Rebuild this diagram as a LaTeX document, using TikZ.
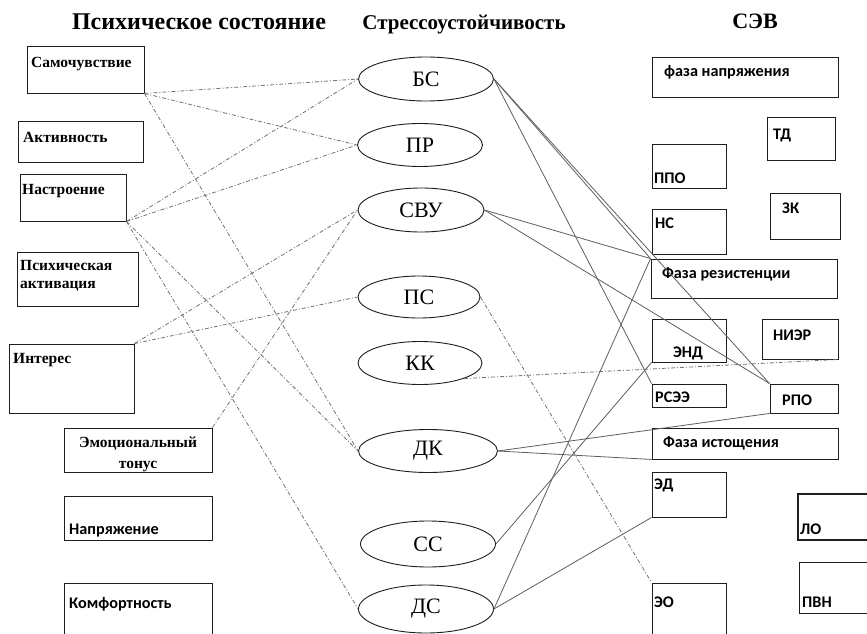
\documentclass[tikz,border=0pt]{standalone}
\usepackage{fontspec}
\setmainfont{Liberation Serif}
\newfontfamily\calib{Carlito}
\usetikzlibrary{shapes.geometric}
\definecolor{figline}{RGB}{95,95,95}
\definecolor{figdash}{RGB}{115,115,115}
\definecolor{figedge}{RGB}{30,30,30}

\begin{document}
\begin{tikzpicture}[x=1pt,y=-1pt]

% canvas
\useasboundingbox (0,0) rectangle (867,634);
\clip (0,0) rectangle (867,634);
\fill[white] (0,0) rectangle (867,634);

\tikzset{
  box/.style={
    draw=figedge,
    line width=0.9pt,
    inner sep=0pt
  },
  oval/.style={
    ellipse,
    draw=figedge,
    line width=0.9pt,
    inner sep=0pt,
    font=\fontsize{22}{24}\selectfont
  },
  serlabel/.style={
    anchor=base west,
    inner sep=0pt,
    font=\bfseries\fontsize{15.5}{17}\selectfont
  },
  sanlabel/.style={
    anchor=base west,
    inner sep=0pt,
    font=\calib\bfseries\fontsize{16.2}{18}\selectfont
  },
  header/.style={
    anchor=base,
    inner sep=0pt,
    font=\bfseries\fontsize{22}{24}\selectfont
  },
  dashlink/.style={
    draw=figdash,
    line width=0.8pt,
    dash pattern=on 4pt off 2pt on 1pt off 2pt
  },
  solidlink/.style={
    draw=figline,
    line width=0.8pt
  }
}

% headers
\node[header,font=\bfseries\fontsize{24}{26}\selectfont] (h1) at (199,30) {Психическое состояние};
\node[header,font=\bfseries\fontsize{21}{23}\selectfont] (h2) at (464,30) {Стрессоустойчивость};
\node[header] (h3) at (755,29) {СЭВ};

% left column -- psychic state
\node[box,minimum width=117,minimum height=47] (sam) at (85.5,69.5) {};
\node[box,minimum width=125,minimum height=41] (akt) at (80.5,141.5) {};
\node[box,minimum width=106,minimum height=47] (nas) at (73,197.5) {};
\node[box,minimum width=121,minimum height=54] (psy) at (77.5,279) {};
\node[box,minimum width=125,minimum height=69] (int) at (71.5,378.5) {};
\node[box,minimum width=148,minimum height=44] (emo) at (138,450) {};
\node[box,minimum width=148,minimum height=44] (nap) at (138,518) {};
\node[box,minimum width=148,minimum height=67] (kom) at (138,616.5) {};

\node[serlabel] (samt) at (31,67) {Самочувствие};
\node[serlabel] (aktt) at (23,142) {Активность};
\node[serlabel] (nast) at (22,194) {Настроение};
\node[serlabel] (psyt) at (20,270) {Психическая};
\node[serlabel] (psyt2) at (20,288) {активация};
\node[serlabel] (intt) at (13,363) {Интерес};
\node[serlabel,anchor=base] (emot) at (138,447) {Эмоциональный};
\node[serlabel,anchor=base] (emot2) at (138,468) {тонус};
\node[sanlabel] (napt) at (69,534) {Напряжение};
\node[sanlabel] (komt) at (69,608) {Комфортность};

% middle column -- stress resistance
\node[oval,minimum width=135,minimum height=44] (bs) at (426,79) {БС};
\node[oval,minimum width=125,minimum height=43] (pr) at (420,145) {ПР};
\node[oval,minimum width=126,minimum height=44] (svu) at (421,210) {СВУ};
\node[oval,minimum width=122,minimum height=42] (ps) at (419,297) {ПС};
\node[oval,minimum width=124,minimum height=43] (kk) at (420,363) {КК};
\node[oval,minimum width=139,minimum height=43] (dk) at (428,451) {ДК};
\node[oval,minimum width=135,minimum height=46] (ss) at (428,544) {СС};
\node[oval,minimum width=135,minimum height=48] (ds) at (426,609) {ДС};

% right column -- SEV
\node[box,minimum width=186,minimum height=40] (fn) at (745,77) {};
\node[box,minimum width=68,minimum height=43] (td) at (801,138.5) {};
\node[box,minimum width=74,minimum height=44] (ppo) at (689,166) {};
\node[box,minimum width=70,minimum height=46] (zk) at (805,216) {};
\node[box,minimum width=74,minimum height=45] (ns) at (689,231.5) {};
\node[box,minimum width=186,minimum height=39] (fr) at (744,278.5) {};
\node[box,minimum width=74,minimum height=43] (end) at (689,340.5) {};
\node[box,minimum width=76,minimum height=40] (nier) at (800,339) {};
\node[box,minimum width=74,minimum height=23] (rsee) at (689,395.5) {};
\node[box,minimum width=68,minimum height=29] (rpo) at (804,398.5) {};
\node[box,minimum width=186,minimum height=31] (fi) at (745,443.5) {};
\node[box,minimum width=74,minimum height=45] (ed) at (689,494.5) {};
\node[box,line width=1.8pt,minimum width=82,minimum height=46] (lo) at (839,517) {};
\node[box,minimum width=81,minimum height=51] (pvn) at (839.5,587.5) {};
\node[box,minimum width=74,minimum height=67] (eo) at (689,616.5) {};

\node[sanlabel] (fnt) at (664,76) {фаза напряжения};
\node[sanlabel] (tdt) at (773,139) {ТД};
\node[sanlabel] (ppot) at (654,183) {ППО};
\node[sanlabel] (zkt) at (782,213) {ЗК};
\node[sanlabel] (nst) at (655,228) {НС};
\node[sanlabel] (frt) at (662,278) {Фаза резистенции};
\node[sanlabel] (endt) at (673,357) {ЭНД};
\node[sanlabel] (niert) at (773,340) {НИЭР};
\node[sanlabel] (rseet) at (655,402) {РСЭЭ};
\node[sanlabel] (rpot) at (782,405) {РПО};
\node[sanlabel] (fit) at (663,447) {Фаза истощения};
\node[sanlabel] (edt) at (654,489) {ЭД};
\node[sanlabel] (lot) at (800,534) {ЛО};
\node[sanlabel] (pvnt) at (802,607) {ПВН};
\node[sanlabel] (eot) at (654,607) {ЭО};

% dash-dot links: psychic state -> stress resistance
\draw[dashlink] (sam.south east) -- (bs.west);
\draw[dashlink] (sam.south east) -- (pr.west);
\draw[dashlink] (sam.south east) -- (dk.west);
\draw[dashlink] (nas.south east) -- (bs.west);
\draw[dashlink] (nas.south east) -- (pr.west);
\draw[dashlink] (nas.south east) -- (dk.west);
\draw[dashlink] (nas.south east) -- (ds.west);
\draw[dashlink] (int.north east) -- (svu.west);
\draw[dashlink] (int.north east) -- (ps.west);
\draw[dashlink] (emo.north east) -- (svu.west);

% dash-dot links: stress resistance -> SEV
\draw[dashlink] (ps.east) -- (eo.north west);
\draw[dashlink] (kk.south east) -- (nier.south east);

% solid links: stress resistance -> SEV
\draw[solidlink] (bs.east) -- (rsee.north west);
\draw[solidlink] (bs.east) -- (fr.north west);
\draw[solidlink] (bs.east) -- (rpo.north west);
\draw[solidlink] (svu.east) -- (fr.north west);
\draw[solidlink] (svu.east) -- (rpo.north west);
\draw[solidlink] (dk.east) -- (rpo.south west);
\draw[solidlink] (dk.east) -- (fi.south west);
\draw[solidlink] (ss.east) -- (end.south west);
\draw[solidlink] (ds.east) -- (fr.north west);
\draw[solidlink] (ds.east) -- (ed.south west);

\end{tikzpicture}
\end{document}
